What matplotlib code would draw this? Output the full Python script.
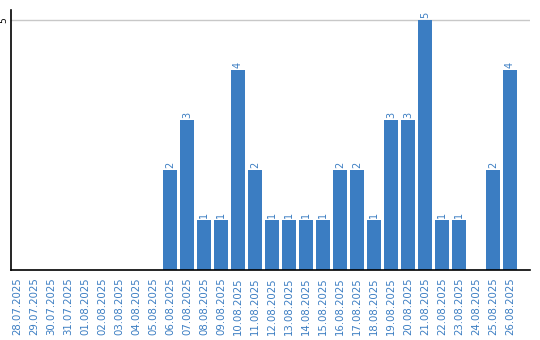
import matplotlib
matplotlib.use("Agg")
import matplotlib.pyplot as plt

dates = ["28.07.2025", "29.07.2025", "30.07.2025", "31.07.2025", "01.08.2025",
         "02.08.2025", "03.08.2025", "04.08.2025", "05.08.2025", "06.08.2025",
         "07.08.2025", "08.08.2025", "09.08.2025", "10.08.2025", "11.08.2025",
         "12.08.2025", "13.08.2025", "14.08.2025", "15.08.2025", "16.08.2025",
         "17.08.2025", "18.08.2025", "19.08.2025", "20.08.2025", "21.08.2025",
         "22.08.2025", "23.08.2025", "24.08.2025", "25.08.2025", "26.08.2025"]
values = [0, 0, 0, 0, 0, 0, 0, 0, 0, 2,
          3, 1, 1, 4, 2, 1, 1, 1, 1, 2,
          2, 1, 3, 3, 5, 1, 1, 0, 2, 4]

bar_color = "#3b7dc2"
label_color = "#3b7dc2"

fig = plt.figure(figsize=(5.4, 3.4), dpi=100)
ax = fig.add_axes([11/540, 70/340, 519/540, 260/340])

x = list(range(len(dates)))
ax.bar(x, values, width=0.82, color=bar_color, zorder=2)
ax.set_xlim(-6/17, len(dates) - 1 + 20/17)
ax.set_ylim(0, 5.2)

for xi, v in zip(x, values):
    if v > 0:
        ax.text(xi, v + 0.04, str(v), rotation=90, ha="center", va="bottom",
                color=label_color, fontsize=7)

ax.set_xticks(x)
ax.set_xticklabels(dates, rotation=90, fontsize=7.3, color=label_color)
ax.set_yticks([5])
ax.set_yticklabels(["5"], rotation=90, fontsize=6.5, va="center")
ax.tick_params(axis="x", length=0, pad=5)
ax.tick_params(axis="y", length=0, pad=2)
ax.yaxis.grid(True, color="#c8c8c8", linewidth=1, zorder=0)
ax.set_axisbelow(True)
for s in ["top", "right"]:
    ax.spines[s].set_visible(False)
ax.spines["left"].set_color("black")
ax.spines["bottom"].set_color("black")
ax.spines["left"].set_linewidth(1.2)
ax.spines["bottom"].set_linewidth(1.2)

fig.savefig("out.png", dpi=100)
